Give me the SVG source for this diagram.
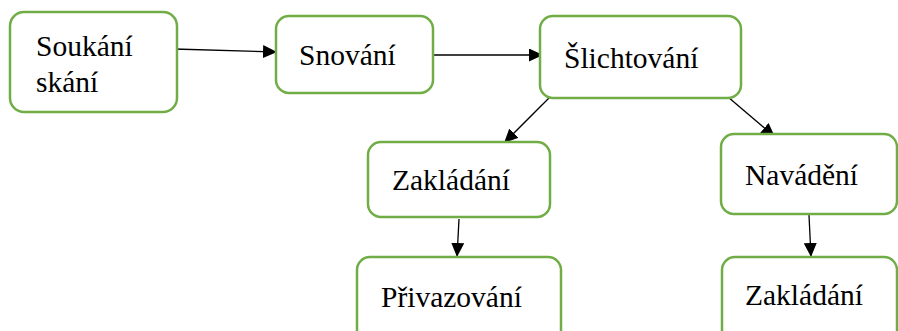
<svg xmlns="http://www.w3.org/2000/svg" width="898" height="331" viewBox="0 0 898 331">
  <style>
    .box { fill: #ffffff; stroke: #70ad47; stroke-width: 2.5; }
    .lbl { font-size: 29.5px; fill: #000000; }
    .edge { stroke: #000000; stroke-width: 1.3; fill: none; marker-end: url(#arrow); }
  </style>
  <defs>
    <marker id="arrow" markerUnits="userSpaceOnUse" markerWidth="15" markerHeight="13" viewBox="0 0 15 13" refX="14" refY="6.5" orient="auto">
      <path d="M0,0 L14,6.5 L0,13 Z" fill="#000000"/>
    </marker>
  </defs>
  <rect width="898" height="331" fill="#ffffff"/>

  <g id="connectors">
    <line class="edge" x1="174" y1="49" x2="277" y2="52"/>
    <line class="edge" x1="433" y1="55" x2="543" y2="55"/>
    <line class="edge" x1="549" y1="98" x2="504" y2="143"/>
    <line class="edge" x1="728" y1="97" x2="775" y2="137"/>
    <line class="edge" x1="459" y1="219" x2="457" y2="257"/>
    <line class="edge" x1="809" y1="215" x2="811" y2="257"/>
  </g>

  <g font-family="'Liberation Serif', 'DejaVu Serif', serif">
    <g id="soukani">
      <rect class="box" x="10" y="12" width="167" height="100" rx="14"/>
      <text class="lbl" x="36" y="56">Soukání</text>
      <text class="lbl" x="36" y="92">skání</text>
    </g>
    <g id="snovani">
      <rect class="box" x="276" y="16" width="157" height="77" rx="13"/>
      <text class="lbl" x="299" y="65">Snování</text>
    </g>
    <g id="slichtovani">
      <rect class="box" x="540" y="16" width="201" height="82" rx="13"/>
      <text class="lbl" x="564" y="68">Šlichtování</text>
    </g>
    <g id="zakladani-1">
      <rect class="box" x="368" y="142" width="182" height="75" rx="13"/>
      <text class="lbl" x="392" y="190">Zakládání</text>
    </g>
    <g id="navadeni">
      <rect class="box" x="721" y="134" width="176" height="80" rx="13"/>
      <text class="lbl" x="745" y="185">Navádění</text>
    </g>
    <g id="privazovani">
      <rect class="box" x="357" y="257" width="204" height="90" rx="13"/>
      <text class="lbl" x="381" y="307">Přivazování</text>
    </g>
    <g id="zakladani-2">
      <rect class="box" x="722" y="257" width="175" height="90" rx="13"/>
      <text class="lbl" x="745" y="305">Zakládání</text>
    </g>
  </g>
</svg>
